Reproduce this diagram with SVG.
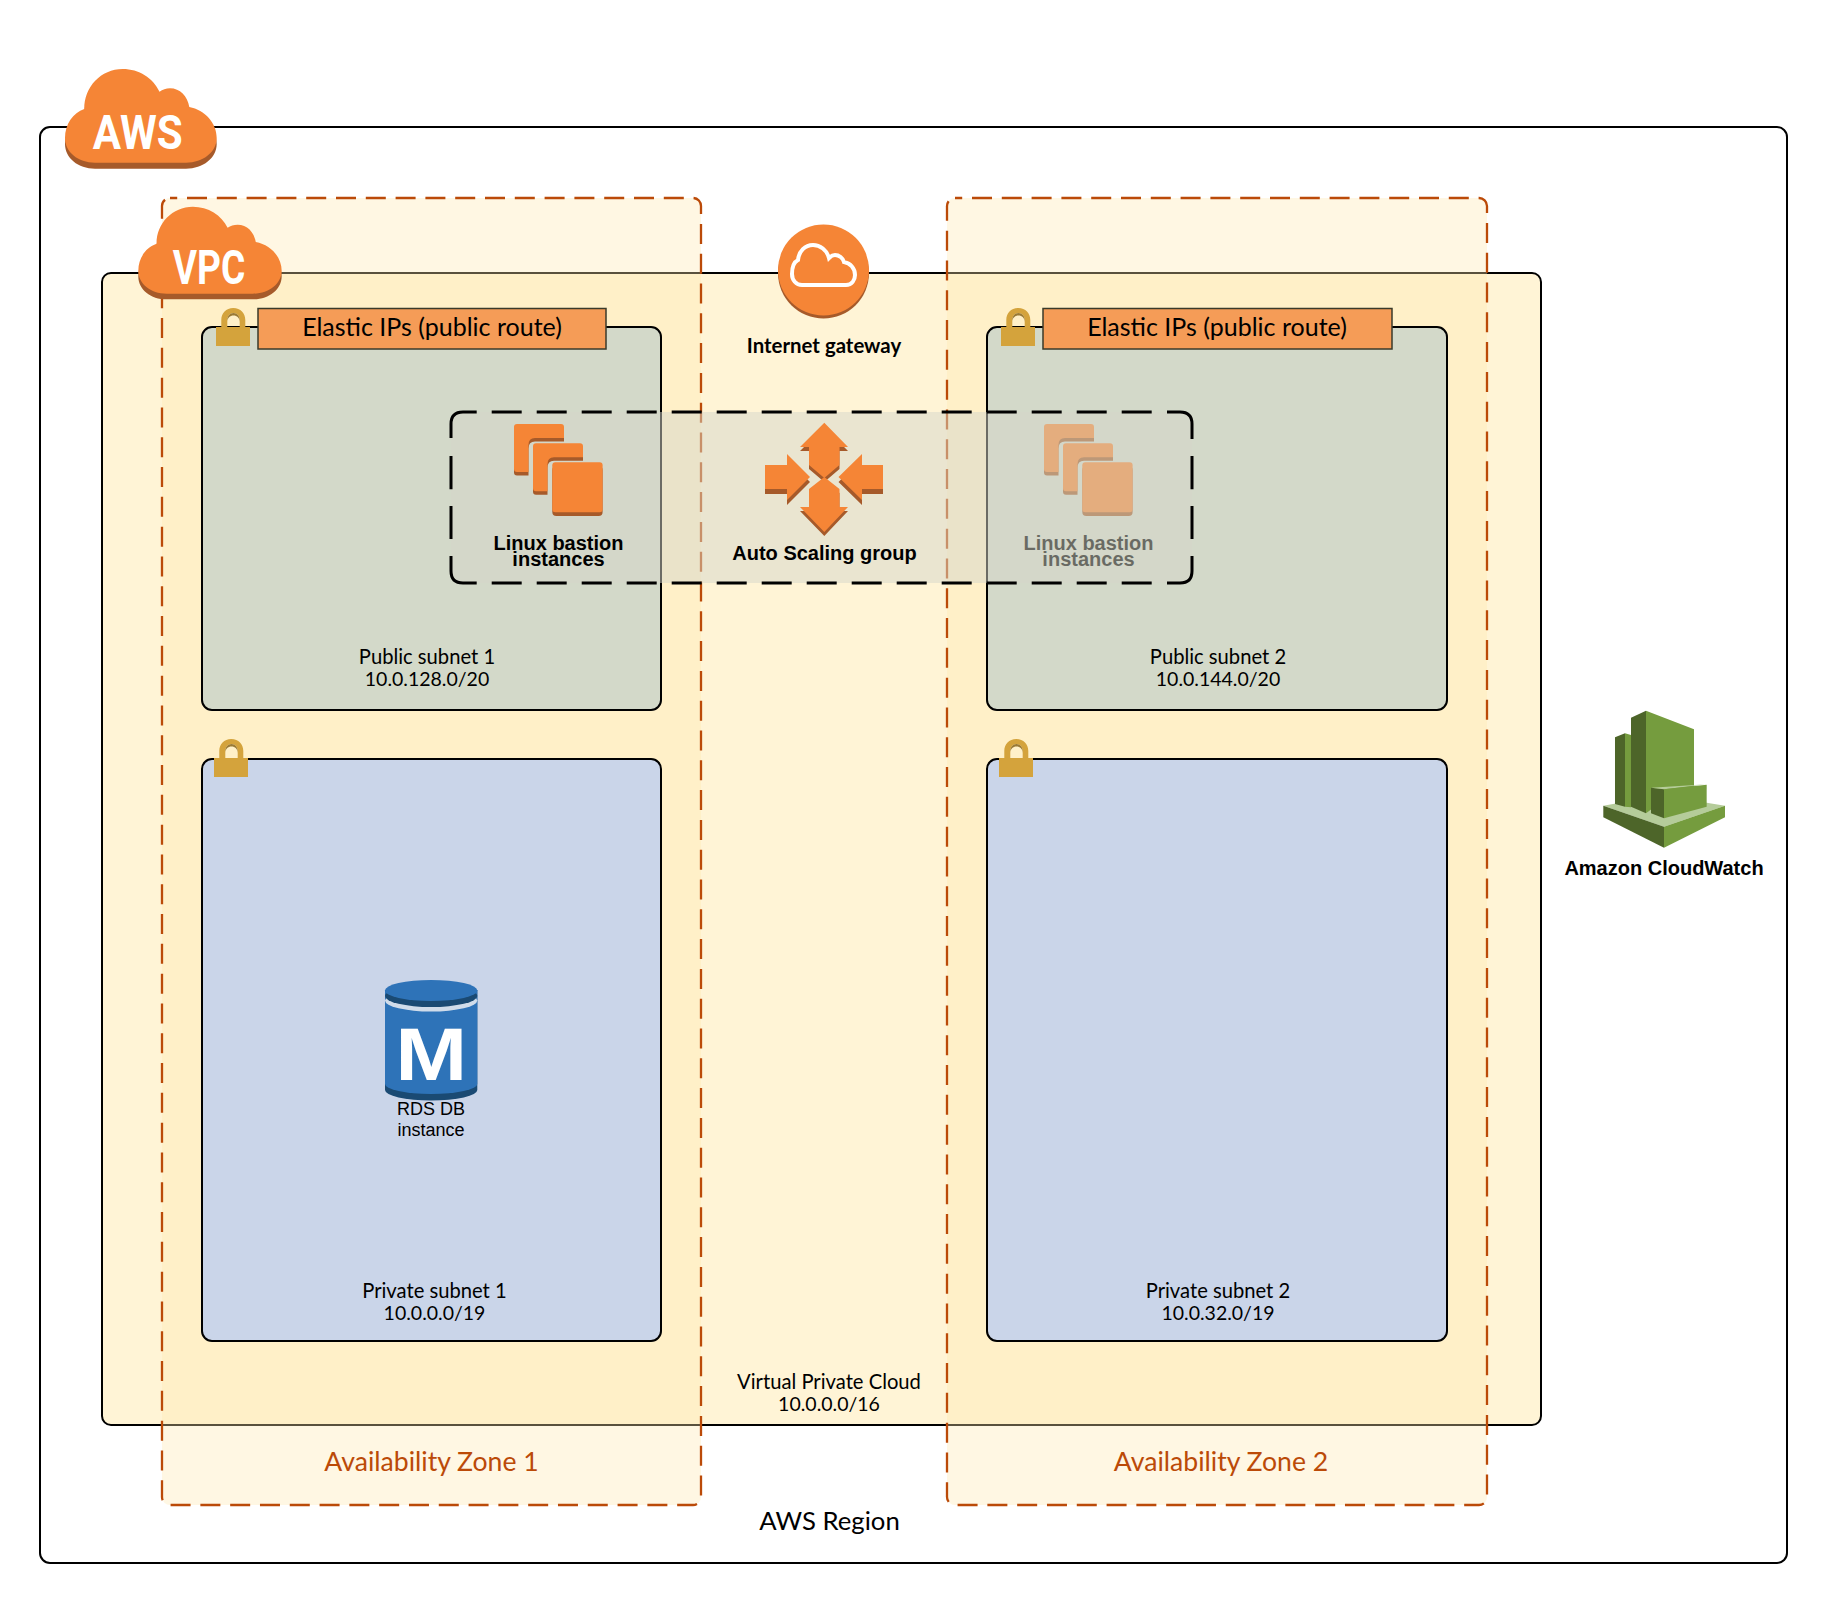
<svg xmlns="http://www.w3.org/2000/svg" width="1827" height="1604" viewBox="0 0 1827 1604">
<style>
.lato{font-family:"Lato","Open Sans","Liberation Sans",sans-serif;fill:#000;text-anchor:middle}
.arial{font-family:"Liberation Sans",Arial,sans-serif;fill:#000;text-anchor:middle}
.bold{font-weight:700}
.box{stroke:#000;stroke-width:2}
.az{fill:#ffe9b0;fill-opacity:.35;stroke:none}
.azline{fill:none;stroke:#bb4a08;stroke-width:2.3;stroke-dasharray:20 9.8;stroke-dashoffset:12.8}
.pub{fill:#d3d9c9}
.pri{fill:#cad5e9}
.eip{fill:#f59c57;stroke:#3a3a2a;stroke-width:1.5}
.s18{font-size:20.2px}
.s19{font-size:19.5px}
.eiptext{font-size:25px}
.aztext{font-size:26.6px;fill:#bb4a08}
.cloudtext{font-family:"Roboto","Liberation Sans",sans-serif;font-weight:700;font-size:49px;fill:#fff}
.o{fill:#f58536}
.d{fill:#a65a2a}
.lock{fill:#d4a33c}
.lab{font-size:20px}
</style>
<defs>
<path id="cloud" d="M65 138C65 124 73 113 84.300 109C84 87 101 69 122.700 69C139 69 153 78 159.500 91.700C162.500 89.500 166 88.300 170 88.300C180 88.300 187.500 96 189.300 107C205 110 216.700 123 216.700 138C216.700 152 203 162.700 186 162.700H95C78 162.700 65 152 65 138Z"/>
<g id="cloudicon"><use href="#cloud" y="6" class="d"/><use href="#cloud" class="o"/></g>
<g id="lockicon">
<path class="lock" d="M5.300 20V12C5.300 5 10 0 17.300 0S29.300 5 29.300 12V20H23.700V12C23.700 8 21 5 17.500 5S11.300 8 11.300 12V20Z"/>
<path d="M11.300 14C11.300 10 14 7.500 17.500 7.500S23.700 10 23.700 14V12C23.700 8 21 5 17.500 5S11.300 8 11.300 12Z" fill="#9a7a35"/>
<rect class="lock" x="0" y="19" width="34" height="19"/>
</g>
<path id="lshape" d="M3 0H47Q50 0 50 3V14H21Q14.500 14 14.500 21V48H3Q0 48 0 45V3Q0 0 3 0Z"/>
<g id="stack">
<use href="#lshape" class="d" y="3.500"/><use href="#lshape" class="o"/>
<g transform="translate(19 19.300)"><use href="#lshape" class="d" y="3.500"/><use href="#lshape" class="o"/></g>
<rect class="d" x="38.300" y="42" width="50.300" height="50" rx="4"/>
<rect class="o" x="38.300" y="38.300" width="50.300" height="50" rx="3"/>
</g>
</defs>
<rect width="1827" height="1604" fill="#fff"/>

<g id="aws-region">
<rect class="box" x="40" y="127" width="1747" height="1436" rx="10" fill="#fff"/>
<text class="lato" x="829.500" y="1530" style="font-size:25.700px">AWS Region</text>
</g>

<g id="vpc">
<rect class="box" x="102" y="273" width="1439" height="1152" rx="9" fill="#fff4d6"/>
<text class="lato s18" x="829" y="1389">Virtual Private Cloud</text>
<text class="lato s19" x="829" y="1411">10.0.0.0/16</text>
</g>

<g id="az1">
<rect class="az" x="162" y="198" width="539" height="1307" rx="8"/>
<rect class="azline" x="162" y="198" width="539" height="1307" rx="8"/>
<text class="lato aztext" x="431.500" y="1471">Availability Zone 1</text>
</g>
<g id="az2">
<rect class="az" x="947" y="198" width="540" height="1307" rx="8"/>
<rect class="azline" x="947" y="198" width="540" height="1307" rx="8"/>
<text class="lato aztext" x="1221" y="1471">Availability Zone 2</text>
</g>

<g id="public-subnet-1">
<rect class="box pub" x="202" y="327" width="459" height="383" rx="10"/>
<text class="lato s18" x="427" y="664">Public subnet 1</text>
<text class="lato s19" x="427" y="686">10.0.128.0/20</text>
</g>
<g id="public-subnet-2">
<rect class="box pub" x="987" y="327" width="460" height="383" rx="10"/>
<text class="lato s18" x="1218" y="664">Public subnet 2</text>
<text class="lato s19" x="1218" y="686">10.0.144.0/20</text>
</g>
<g id="private-subnet-1">
<rect class="box pri" x="202" y="759" width="459" height="582" rx="10"/>
<text class="lato s18" x="434.500" y="1298">Private subnet 1</text>
<text class="lato s19" x="434.500" y="1320">10.0.0.0/19</text>
</g>
<g id="private-subnet-2">
<rect class="box pri" x="987" y="759" width="460" height="582" rx="10"/>
<text class="lato s18" x="1218" y="1298">Private subnet 2</text>
<text class="lato s19" x="1218" y="1320">10.0.32.0/19</text>
</g>

<g id="lock-public-1"><use href="#lockicon" x="216" y="308"/></g>
<g id="lock-public-2"><use href="#lockicon" x="1001" y="308"/></g>
<g id="lock-private-1"><use href="#lockicon" x="214" y="739"/></g>
<g id="lock-private-2"><use href="#lockicon" x="999" y="739"/></g>

<g id="elastic-ip-1">
<rect class="eip" x="258" y="308.500" width="348" height="40.500"/>
<text class="lato eiptext" x="432" y="335.500">Elastic IPs (public route)</text>
</g>
<g id="elastic-ip-2">
<rect class="eip" x="1043" y="308.500" width="349" height="40.500"/>
<text class="lato eiptext" x="1217" y="335.500">Elastic IPs (public route)</text>
</g>

<g id="auto-scaling-group">
<rect x="451" y="412" width="741" height="171" rx="12" fill="#d6d6ca" fill-opacity=".5"/>
<g fill="none" stroke="#000" stroke-width="3">
<path d="M451 438V424Q451 412 463 412H476.700"/>
<path d="M451 556V571Q451 583 463 583H476.700"/>
<path d="M1192 439V424Q1192 412 1180 412H1167"/>
<path d="M1192 556V571Q1192 583 1180 583H1167"/>
<path d="M491.700 412H1152M491.700 583H1152" stroke-dasharray="30 15"/>
<path d="M451 456V539M1192 456V539" stroke-dasharray="33.300 16.700"/>
</g>
<g>
<polygon class="d" points="824.3,426.700 848,451 839.500,451 839.500,469 824.300,482 809,469 809,451 800,451"/>
<polygon class="o" points="824.3,422.700 848,447 839.500,447 839.500,465 824.300,478 809,465 809,447 800,447"/>
<polygon class="d" points="824.3,481 839.500,493 839.500,511 848,511 824.300,536 800,511 809,511 809,493"/>
<polygon class="o" points="824.3,477 839.500,489 839.500,507 848,507 824.300,532 800,507 809,507 809,489"/>
<polygon class="d" points="765,470 787,470 787,459 810,482 787,505 787,494 765,494"/>
<polygon class="o" points="765,465 787,465 787,454 810,477 787,500 787,489 765,489"/>
<polygon class="d" points="883,470 862,470 862,459 838.500,482 862,505 862,494 883,494"/>
<polygon class="o" points="883,465 862,465 862,454 838.500,477 862,500 862,489 883,489"/>
</g>
<text class="arial bold lab" x="824.500" y="560">Auto Scaling group</text>
</g>

<g id="bastion-1">
<use href="#stack" x="514" y="424"/>
<text class="arial bold lab" x="558.500" y="550">Linux bastion</text>
<text class="arial bold lab" x="558.500" y="566">instances</text>
</g>
<g id="bastion-2" opacity=".5">
<use href="#stack" x="1044" y="424"/>
<text class="arial bold lab" x="1088.500" y="550">Linux bastion</text>
<text class="arial bold lab" x="1088.500" y="566">instances</text>
</g>

<g id="internet-gateway">
<circle class="d" cx="823.500" cy="273" r="45.500"/>
<circle class="o" cx="823.500" cy="270" r="45.500"/>
<path fill="none" stroke="#fff" stroke-width="4" d="M802 285H846C852 285 855 280 855 275C855 268 850 263 844 262C843 258 839 255 835 255C833 255 831 256 829 258C827 250 820 245 813 245C805 245 799 251 798 260C794 262 792 268 792 274C792 280 796 285 802 285Z"/>
<text class="lato bold" x="824" y="352.500" style="font-size:20.400px">Internet gateway</text>
</g>

<g id="rds-instance">
<path d="M385 990V1090A46.150 10.500 0 0 0 477.300 1090V990Z" fill="#1a4a73"/>
<path d="M385 990V1084A46.150 10 0 0 0 477.300 1084V990Z" fill="#2e73b8"/>
<ellipse cx="431.150" cy="1000.500" rx="46.150" ry="11" fill="#d0dcea"/>
<ellipse cx="431.150" cy="996" rx="46.150" ry="11" fill="#1a4a73"/>
<ellipse cx="431.150" cy="990.500" rx="46.150" ry="10.500" fill="#2e73b8"/>
<text class="arial bold" x="431.300" y="1080" textLength="72" lengthAdjust="spacingAndGlyphs" style="font-size:74px;fill:#fff">M</text>
<text class="arial" x="431" y="1115" style="font-size:18px">RDS DB</text>
<text class="arial" x="431" y="1136" style="font-size:18px">instance</text>
</g>

<g id="cloudwatch">
<g transform="translate(1540 680) scale(.33333)">
<polygon points="190,377 240,368 500,368 555,377 372,440" fill="#b5cc9a"/>
<polygon points="190,377 372,440 372,503 190,412" fill="#4d6529"/>
<polygon points="372,440 555,377 555,412 372,503" fill="#759c3e"/>
<polygon points="225,172 255,160 255,380 225,372" fill="#4d6529"/>
<polygon points="255,160 273,165 273,382 255,380" fill="#759c3e"/>
<polygon points="273,113 318,92 318,400 273,380" fill="#4d6529"/>
<polygon points="318,92 462,148 462,340 372,360 318,400" fill="#759c3e"/>
<polygon points="333,323 372,328 372,415 333,400" fill="#4d6529"/>
<polygon points="333,323 500,313 372,328" fill="#b5cc9a"/>
<polygon points="372,328 500,314 500,380 372,415" fill="#759c3e"/>
</g>
<text class="arial bold lab" x="1664" y="875">Amazon CloudWatch</text>
</g>

<g id="aws-cloud">
<use href="#cloudicon"/>
<text class="cloudtext" x="92.700" y="149.300" textLength="90" lengthAdjust="spacingAndGlyphs">AWS</text>
</g>
<g id="vpc-cloud">
<use href="#cloudicon" transform="translate(76.900 142.600) scale(.945 .929)"/>
<text class="cloudtext" x="172.700" y="284" textLength="72.500" lengthAdjust="spacingAndGlyphs">VPC</text>
</g>
</svg>
